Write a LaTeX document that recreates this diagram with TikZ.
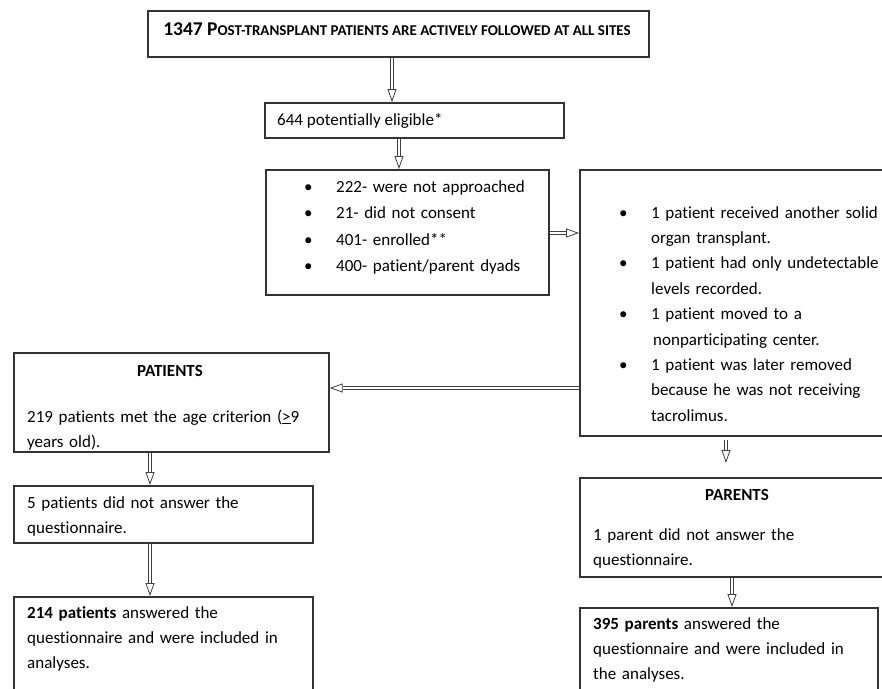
\documentclass[tikz,border=0pt]{standalone}
\usepackage{fontspec}
\setmainfont{Carlito}[Ligatures=NoCommon]
\usetikzlibrary{arrows.meta}
\tikzset{
  box/.style={draw=black!80, line width=1.7pt, anchor=north west, inner sep=0pt},
  txt/.style={anchor=base west, inner sep=0pt, align=left},
  flow/.style={draw=black!75, line width=0.8pt, double, double distance=2.6pt,
    -{Triangle[open, length=13pt, width=9pt]}}
}
\newcommand{\itm}{\makebox[26pt][l]{\hspace{-6pt}\textbullet}}
\begin{document}
\begin{tikzpicture}[x=1pt, y=-1pt, font=\fontsize{17}{25.4}\selectfont]
\path[use as bounding box, clip] (0,0) rectangle (882,688);

% Boxes
\node[box, minimum width=501pt, minimum height=46pt] (sites) at (147,10) {};
\node[box, minimum width=299pt, minimum height=35pt] (elig) at (264,102) {};
\node[box, minimum width=283pt, minimum height=125pt] (appr) at (265,169) {};
\node[box, minimum width=318pt, minimum height=266pt] (excl) at (579,169) {};
\node[box, minimum width=315pt, minimum height=99pt] (pat) at (13,352) {};
\node[box, minimum width=299pt, minimum height=57pt] (patno) at (13,485) {};
\node[box, minimum width=299pt, minimum height=120pt] (patin) at (13,596) {};
\node[box, minimum width=318pt, minimum height=99pt] (par) at (579,477) {};
\node[box, minimum width=298pt, minimum height=110pt] (parin) at (579,607) {};

% Texts
\node[anchor=base, inner sep=0pt] (sitest) at (397,35)
  {\bfseries\fontsize{19.5}{20}\selectfont 1347 P{\fontsize{15}{16}\selectfont OST-TRANSPLANT PATIENTS ARE ACTIVELY FOLLOWED AT ALL SITES}};
\node[txt] (eligt) at (277,125) {644 potentially eligible*};
\node[txt, text width=260pt, font=\fontsize{17}{26.5}\selectfont] (apprt) at (310,192)
  {\itm222- were not approached\\
   \itm21- did not consent\\
   \itm401- enrolled**\\
   \itm400- patient/parent dyads};
\node[txt, text width=300pt] (exclt) at (625,218)
  {\itm1 patient received another solid\\
   \hspace*{26pt}organ transplant.\\
   \itm1 patient had only undetectable\\
   \hspace*{26pt}levels recorded.\\
   \itm1 patient moved to a\\
   \hspace*{28pt}nonparticipating center.\\
   \itm1 patient was later removed\\
   \hspace*{26pt}because he was not receiving\\
   \hspace*{26pt}tacrolimus.};
\node[anchor=base, inner sep=0pt] (patt) at (170,376) {\bfseries PATIENTS};
\node[txt, text width=310pt] (pattx) at (27,422)
  {219 patients met the age criterion (\underline{>}9\\years old).};
\node[txt, text width=290pt] (patnot) at (27,508)
  {5 patients did not answer the\\questionnaire.};
\node[txt, text width=290pt] (patint) at (27,618)
  {\textbf{214 patients} answered the\\questionnaire and were included in\\analyses.};
\node[anchor=base, inner sep=0pt] (part) at (737,500) {\bfseries PARENTS};
\node[txt, text width=290pt] (partx) at (593,540)
  {1 parent did not answer the\\questionnaire.};
\node[txt, text width=290pt] (parint) at (593,629)
  {\textbf{395 parents} answered the\\questionnaire and were included in\\the analyses.};

% Arrows
\draw[flow] (sites.south -| 392,0) -- (elig.north -| 392,0);
\draw[flow] (elig.south -| 399,0) -- (appr.north -| 399,0);
\draw[flow] (appr.east |- 0,233) -- (excl.west |- 0,233);
\draw[flow] (excl.west |- 0,388) -- (pat.east |- 0,388);
\draw[flow] (pat.south -| 150,0) -- (patno.north -| 150,0);
\draw[flow] (patno.south -| 150,0) -- (patin.north -| 150,0);
\draw[flow, shorten <=3pt, shorten >=14pt] (excl.south -| 726,0) -- (par.north -| 726,0);
\draw[flow] (par.south -| 732,0) -- (parin.north -| 732,0);
\end{tikzpicture}
\end{document}
